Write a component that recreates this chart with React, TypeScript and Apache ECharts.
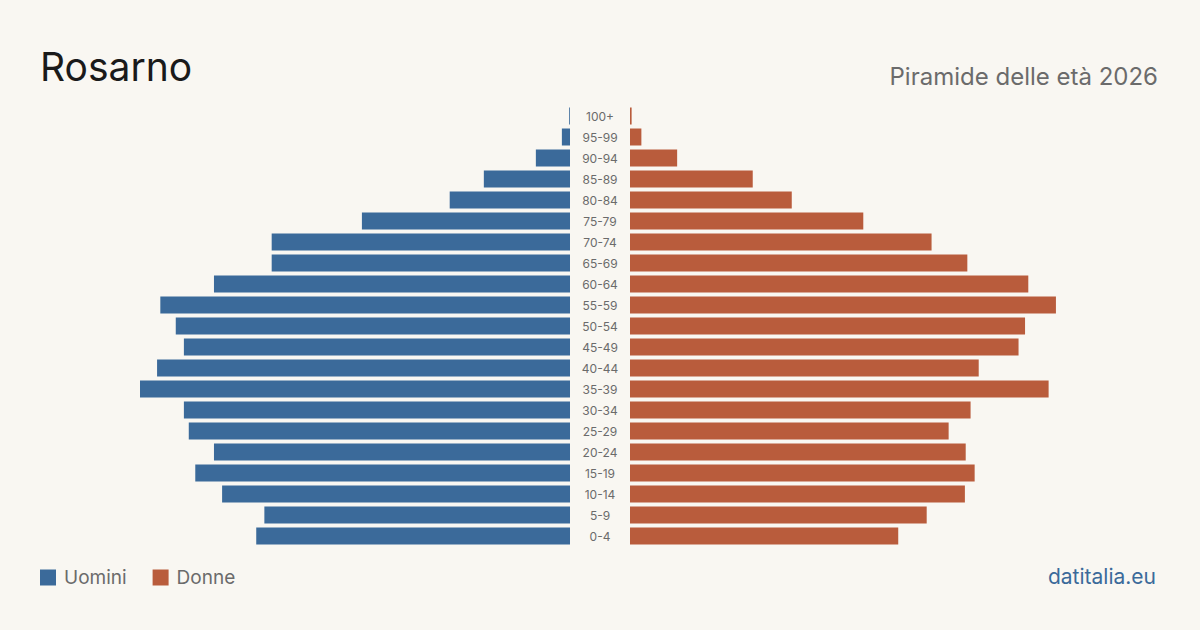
import React, { useEffect, useRef } from "react";
import * as echarts from "echarts";

// Age groups, youngest first (category axis is drawn bottom-up)
const ageGroups = [
  "0-4", "5-9", "10-14", "15-19", "20-24", "25-29", "30-34", "35-39", "40-44", "45-49",
  "50-54", "55-59", "60-64", "65-69", "70-74", "75-79", "80-84", "85-89", "90-94", "95-99", "100+",
];

// Residents per age group
const men = [386, 376, 428, 461, 438, 469, 475, 529, 508, 475, 485, 504, 438, 367, 367, 256, 148, 106, 42, 10, 1];
const women = [330, 365, 412, 424, 413, 392, 419, 515, 429, 478, 486, 524, 490, 415, 371, 287, 199, 151, 58, 14, 2];

const townName = "Rosarno";
const subtitle = "Piramide delle età 2026";
const source = "datitalia.eu";

const BLUE = "#3b6a9a";
const ORANGE = "#b95c3c";
const BG = "#f9f7f2";
const FONT = "Inter, 'Noto Sans', sans-serif";

export default function App() {
  const ref = useRef<HTMLDivElement>(null);

  useEffect(() => {
    if (!ref.current) return;
    const chart = echarts.init(ref.current, null, { renderer: "svg" });
    const maxVal = Math.max(...men, ...women);

    chart.setOption({
      animation: false,
      backgroundColor: BG,
      textStyle: { fontFamily: FONT },
      legend: {
        left: 40,
        top: 568,
        padding: 0,
        icon: "rect",
        itemWidth: 16,
        itemHeight: 16,
        itemGap: 26,
        textStyle: { color: "#6b6b6b", fontSize: 19, fontFamily: FONT, padding: [0, 0, 0, 3] },
        data: ["Uomini", "Donne"],
      },
      graphic: [
        {
          type: "text",
          x: 40,
          y: 66,
          style: {
            text: townName,
            font: `400 39px ${FONT}`,
            fill: "#1a1a1a",
            textVerticalAlign: "middle",
          },
        },
        {
          type: "text",
          x: 1158,
          y: 76,
          style: {
            text: subtitle,
            font: `400 24px ${FONT}`,
            fill: "#6b6b6b",
            textAlign: "right",
            textVerticalAlign: "middle",
          },
        },
        {
          type: "text",
          x: 1156,
          y: 576,
          style: {
            text: source,
            font: `400 21px ${FONT}`,
            fill: "#3b6a9a",
            textAlign: "right",
            textVerticalAlign: "middle",
          },
        },
      ],
      grid: [
        { left: 140, width: 430, top: 105.5, height: 441 },
        { left: 630, width: 430, top: 105.5, height: 441 },
      ],
      xAxis: [
        { gridIndex: 0, type: "value", inverse: true, min: 0, max: maxVal, show: false },
        { gridIndex: 1, type: "value", min: 0, max: maxVal, show: false },
      ],
      yAxis: [
        {
          gridIndex: 0,
          type: "category",
          data: ageGroups,
          show: false,
        },
        {
          gridIndex: 1,
          type: "category",
          data: ageGroups,
          position: "left",
          axisLine: { show: false },
          axisTick: { show: false },
          axisLabel: {
            align: "center",
            margin: 30,
            color: "#6b6b6b",
            fontSize: 12,
            fontFamily: FONT,
          },
        },
      ],
      series: [
        {
          name: "Uomini",
          type: "bar",
          xAxisIndex: 0,
          yAxisIndex: 0,
          data: men,
          barWidth: 17,
          itemStyle: { color: BLUE },
        },
        {
          name: "Donne",
          type: "bar",
          xAxisIndex: 1,
          yAxisIndex: 1,
          data: women,
          barWidth: 17,
          itemStyle: { color: ORANGE },
        },
      ],
    });

    return () => chart.dispose();
  }, []);

  return <div ref={ref} style={{ width: 1200, height: 630, position: "absolute", left: 0, top: 0 }} />;
}
